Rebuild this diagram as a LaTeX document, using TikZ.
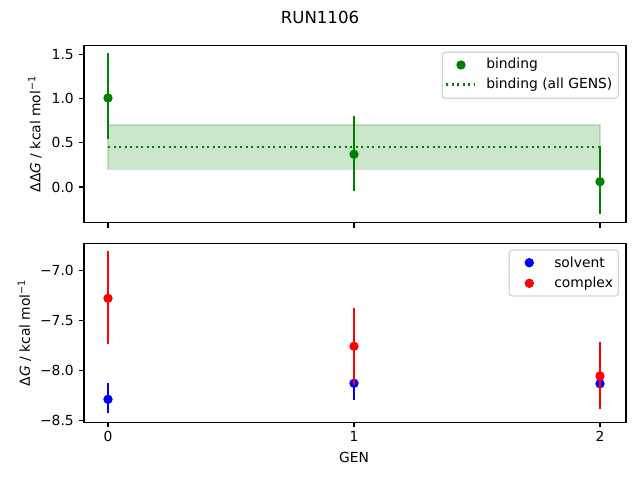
\documentclass[tikz,border=0pt]{standalone}
\usepackage{fontspec}
\setmainfont{DejaVu Sans}
\definecolor{mgreen}{rgb}{0,0.5,0}
\definecolor{legedge}{gray}{0.8}
\begin{document}
\begin{tikzpicture}[x=0.01in,y=-0.01in,
  every node/.style={font=\fontsize{10}{12}\selectfont, inner sep=0pt},
  spine/.style={line width=0.8pt, black},
  tickm/.style={line width=0.8pt, black},
  ebar/.style={line width=1.5pt},
  dot/.style={radius=4.7},
  legbox/.style={draw=legedge, fill=white, fill opacity=0.8, draw opacity=0.8, line width=1pt, rounded corners=2pt},
  ylab/.style={rotate=90, anchor=center}]
\useasboundingbox (0,0) rectangle (640,480);
% ---- title
\node (title) at (320,17) {\fontsize{12}{14}\selectfont RUN1106};
% ================= top axes
% band
\fill[mgreen, opacity=0.2] (108,125) rectangle (600,169.3);
\draw[mgreen, opacity=0.2, line width=1pt] (108,125) rectangle (600,169.3);
\draw[mgreen, line width=1.5pt, dash pattern=on 1.5pt off 2.475pt] (108,146.7) -- (600,146.7);
% error bars
\draw[mgreen, ebar] (108,52.7) -- (108,139.3);
\draw[mgreen, ebar] (354,116) -- (354,191.3);
\draw[mgreen, ebar] (600,146) -- (600,214.3);
\fill[mgreen] (108,98) circle[dot];
\fill[mgreen] (354,154.3) circle[dot];
\fill[mgreen] (600,181.7) circle[dot];
% frame
\draw[spine] (84,45.3) rectangle (626,222.7);
% y ticks
\foreach \y/\t in {54.3/1.5, 98.5/1.0, 142.7/0.5, 187/0.0} {
  \draw[tickm] (84,\y) -- (79.1,\y);
  \node[anchor=east] at (74,\y) {\t};
}
\foreach \x in {108,354,600} { \draw[tickm] (\x,222.7) -- (\x,227.6); }
\node[ylab] (ylabtop) at (35,134) {ΔΔ\textit{G} / kcal mol\textsuperscript{−1}};
% legend top
\draw[legbox] (442.3,52.3) rectangle (618.3,98.3);
\fill[mgreen] (461,65) circle[dot];
\draw[mgreen, line width=1.5pt, dash pattern=on 1.5pt off 2.475pt] (446,84.5) -- (474,84.5);
\node[anchor=west] (lgb) at (486,65) {binding};
\node[anchor=west] (lgall) at (486,84.5) {binding (all GENS)};
% ================= bottom axes
% solvent
\draw[blue, ebar] (108,383.3) -- (108,413.3);
\draw[blue, ebar] (354,366.3) -- (354,400.3);
\draw[blue, ebar] (600,373.7) -- (600,393.7);
\fill[blue] (108,399.3) circle[dot];
\fill[blue] (354,383.3) circle[dot];
\fill[blue] (600,383.7) circle[dot];
% complex
\draw[red, ebar] (108,251) -- (108,343.7);
\draw[red, ebar] (354,308) -- (354,384.6);
\draw[red, ebar] (600,342.3) -- (600,409.3);
\fill[red] (108,298.3) circle[dot];
\fill[red] (354,346.3) circle[dot];
\fill[red] (600,376) circle[dot];
% frame
\draw[spine] (84,243.3) rectangle (626,422.3);
\foreach \y/\t in {270.3/−7.0, 320.3/−7.5, 370.3/−8.0, 420.3/−8.5} {
  \draw[tickm] (84,\y) -- (79.1,\y);
  \node[anchor=east] at (74,\y) {\t};
}
\foreach \x/\t in {108/0,354/1,600/2} {
  \draw[tickm] (\x,422.3) -- (\x,427.2);
  \node[anchor=north] at (\x,431) {\t};
}
\node (xlab) at (354,457.5) {GEN};
\node[ylab] (ylabbot) at (24.5,332.8) {Δ\textit{G} / kcal mol\textsuperscript{−1}};
% legend bottom
\draw[legbox] (509.3,250) rectangle (618.3,296);
\fill[blue] (529.3,262.7) circle[dot];
\fill[red] (529.3,283.3) circle[dot];
\node[anchor=west] (lgs) at (554,262.7) {solvent};
\node[anchor=west] (lgc) at (554,283.3) {complex};
\end{tikzpicture}
\end{document}
